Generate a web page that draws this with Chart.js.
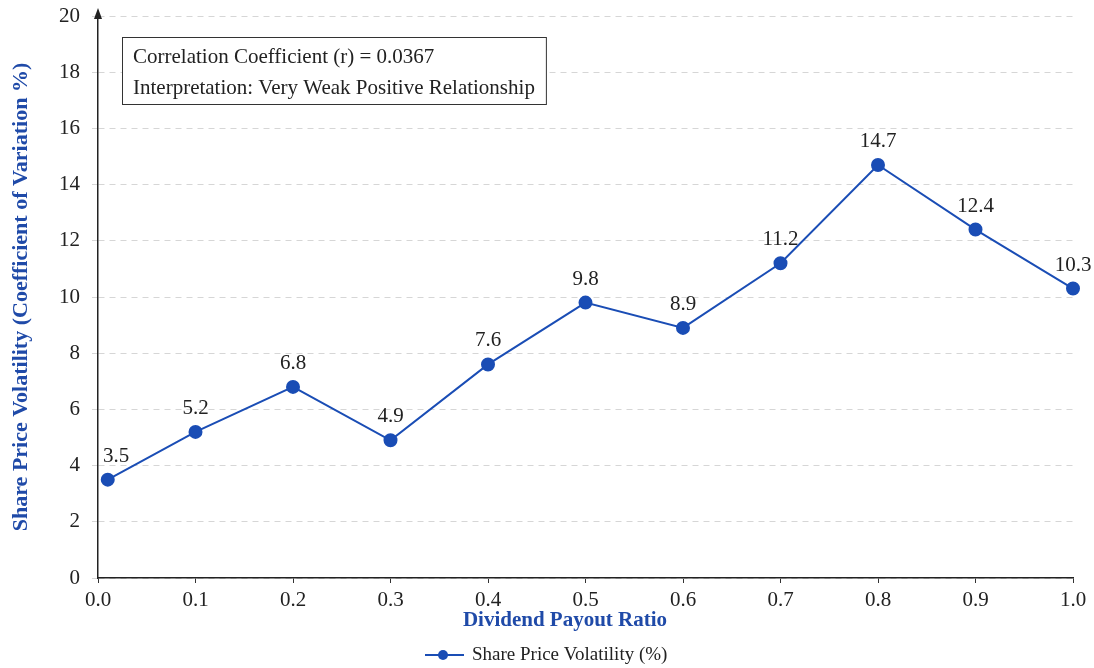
<!DOCTYPE html>
<html lang="en">
<head>
    <meta charset="UTF-8">
    <title>Dividend Payout vs Share Price Volatility</title>
    <script src="https://cdn.jsdelivr.net/npm/chart.js"></script>
    <style>
        body { margin: 0; background: #fff; }
        #wrap { width: 1094px; height: 668px; }
    </style>
</head>
<body>
    <div id="wrap"><canvas id="volChart" width="1094" height="668"></canvas></div>

    <script>
        // data
        const payoutRatio = [0.01, 0.1, 0.2, 0.3, 0.4, 0.5, 0.6, 0.7, 0.8, 0.9, 1.0];
        const volatility = [3.5, 5.2, 6.8, 4.9, 7.6, 9.8, 8.9, 11.2, 14.7, 12.4, 10.3];
        const seriesLabel = 'Share Price Volatility (%)';
        const xTitle = 'Dividend Payout Ratio';
        const noteLines = [
            'Correlation Coefficient (r) = 0.0367',
            'Interpretation: Very Weak Positive Relationship'
        ];

        const blue = '#1a4db5';
        const titleBlue = '#1f4aa8';
        const serif = '"Liberation Serif", "Times New Roman", serif';

        // value labels, note box, axis arrow, x title and legend
        const extras = {
            id: 'extras',
            afterDatasetsDraw(chart) {
                const ctx = chart.ctx;
                const area = chart.chartArea;
                const meta = chart.getDatasetMeta(0);
                ctx.save();
                ctx.font = '21px ' + serif;
                ctx.fillStyle = '#222';
                ctx.textAlign = 'center';
                ctx.textBaseline = 'alphabetic';
                meta.data.forEach((pt, i) => {
                    const txt = volatility[i].toFixed(1);
                    const half = ctx.measureText(txt).width / 2;
                    const cx = Math.max(pt.x, area.left + 5 + half);
                    ctx.fillText(txt, cx, pt.y - 18);
                });
                ctx.restore();
            },
            afterDraw(chart) {
                const ctx = chart.ctx;
                const area = chart.chartArea;
                ctx.save();

                // arrow on y axis
                ctx.strokeStyle = '#222';
                ctx.fillStyle = '#222';
                ctx.lineWidth = 1.5;
                ctx.beginPath();
                ctx.moveTo(area.left, area.top);
                ctx.lineTo(area.left, 14);
                ctx.stroke();
                ctx.beginPath();
                ctx.moveTo(area.left, 8);
                ctx.lineTo(area.left - 4, 19);
                ctx.lineTo(area.left + 4, 19);
                ctx.closePath();
                ctx.fill();

                // note box
                ctx.font = '21px ' + serif;
                const w = Math.max(...noteLines.map(t => ctx.measureText(t).width)) + 22;
                ctx.fillStyle = '#fff';
                ctx.fillRect(122, 37, w, 67);
                ctx.strokeStyle = '#333';
                ctx.lineWidth = 1;
                ctx.strokeRect(122.5, 37.5, w, 67);
                ctx.fillStyle = '#222';
                ctx.textAlign = 'left';
                ctx.textBaseline = 'middle';
                ctx.fillText(noteLines[0], 133, 57);
                ctx.fillText(noteLines[1], 133, 88);

                // x axis title (sits a little left of the plot centre)
                ctx.font = 'bold 21px ' + serif;
                ctx.fillStyle = titleBlue;
                ctx.textAlign = 'center';
                ctx.fillText(xTitle, 565, 621);

                // legend
                ctx.font = '19px ' + serif;
                ctx.textAlign = 'left';
                const lx = 425;
                const ly = 655;
                ctx.strokeStyle = blue;
                ctx.lineWidth = 2;
                ctx.beginPath();
                ctx.moveTo(lx, ly);
                ctx.lineTo(lx + 39, ly);
                ctx.stroke();
                ctx.fillStyle = blue;
                ctx.beginPath();
                ctx.arc(lx + 18, ly, 5, 0, Math.PI * 2);
                ctx.fill();
                ctx.fillStyle = '#222';
                ctx.fillText(seriesLabel, lx + 47, ly);
                ctx.restore();
            }
        };

        new Chart(document.getElementById('volChart'), {
            type: 'scatter',
            data: {
                datasets: [{
                    label: seriesLabel,
                    data: payoutRatio.map((x, i) => ({ x, y: volatility[i] })),
                    showLine: true,
                    borderColor: blue,
                    backgroundColor: blue,
                    borderWidth: 2,
                    pointRadius: 6,
                    pointHoverRadius: 6,
                    tension: 0,
                    clip: false
                }]
            },
            plugins: [extras],
            options: {
                responsive: false,
                animation: false,
                layout: { padding: { top: 0, right: 21, bottom: 30, left: 0 } },
                plugins: {
                    legend: { display: false },
                    tooltip: { enabled: false }
                },
                scales: {
                    x: {
                        type: 'linear',
                        min: 0,
                        max: 1,
                        afterFit: s => { s.height = 60; },
                        ticks: {
                            stepSize: 0.1,
                            padding: 5,
                            color: '#222',
                            font: { family: serif, size: 21 },
                            callback: v => v.toFixed(1)
                        },
                        grid: { drawOnChartArea: false, drawTicks: true, tickLength: 5, color: '#333' },
                        border: { color: '#222', width: 1.5 },
                        title: { display: false }
                    },
                    y: {
                        min: 0,
                        max: 20,
                        afterFit: s => { s.width = 98; s.paddingTop = 16; },
                        ticks: {
                            stepSize: 2,
                            padding: 12,
                            color: '#222',
                            font: { family: serif, size: 21 }
                        },
                        grid: { color: '#d6d6d6', tickLength: 6 },
                        border: { color: '#222', width: 1.5, dash: [6, 5] },
                        title: {
                            display: true,
                            text: 'Share Price Volatility (Coefficient of Variation %)',
                            color: titleBlue,
                            font: { family: serif, size: 22, weight: 'bold' },
                            padding: { top: 8, bottom: 0 }
                        }
                    }
                }
            }
        });
    </script>
</body>
</html>
